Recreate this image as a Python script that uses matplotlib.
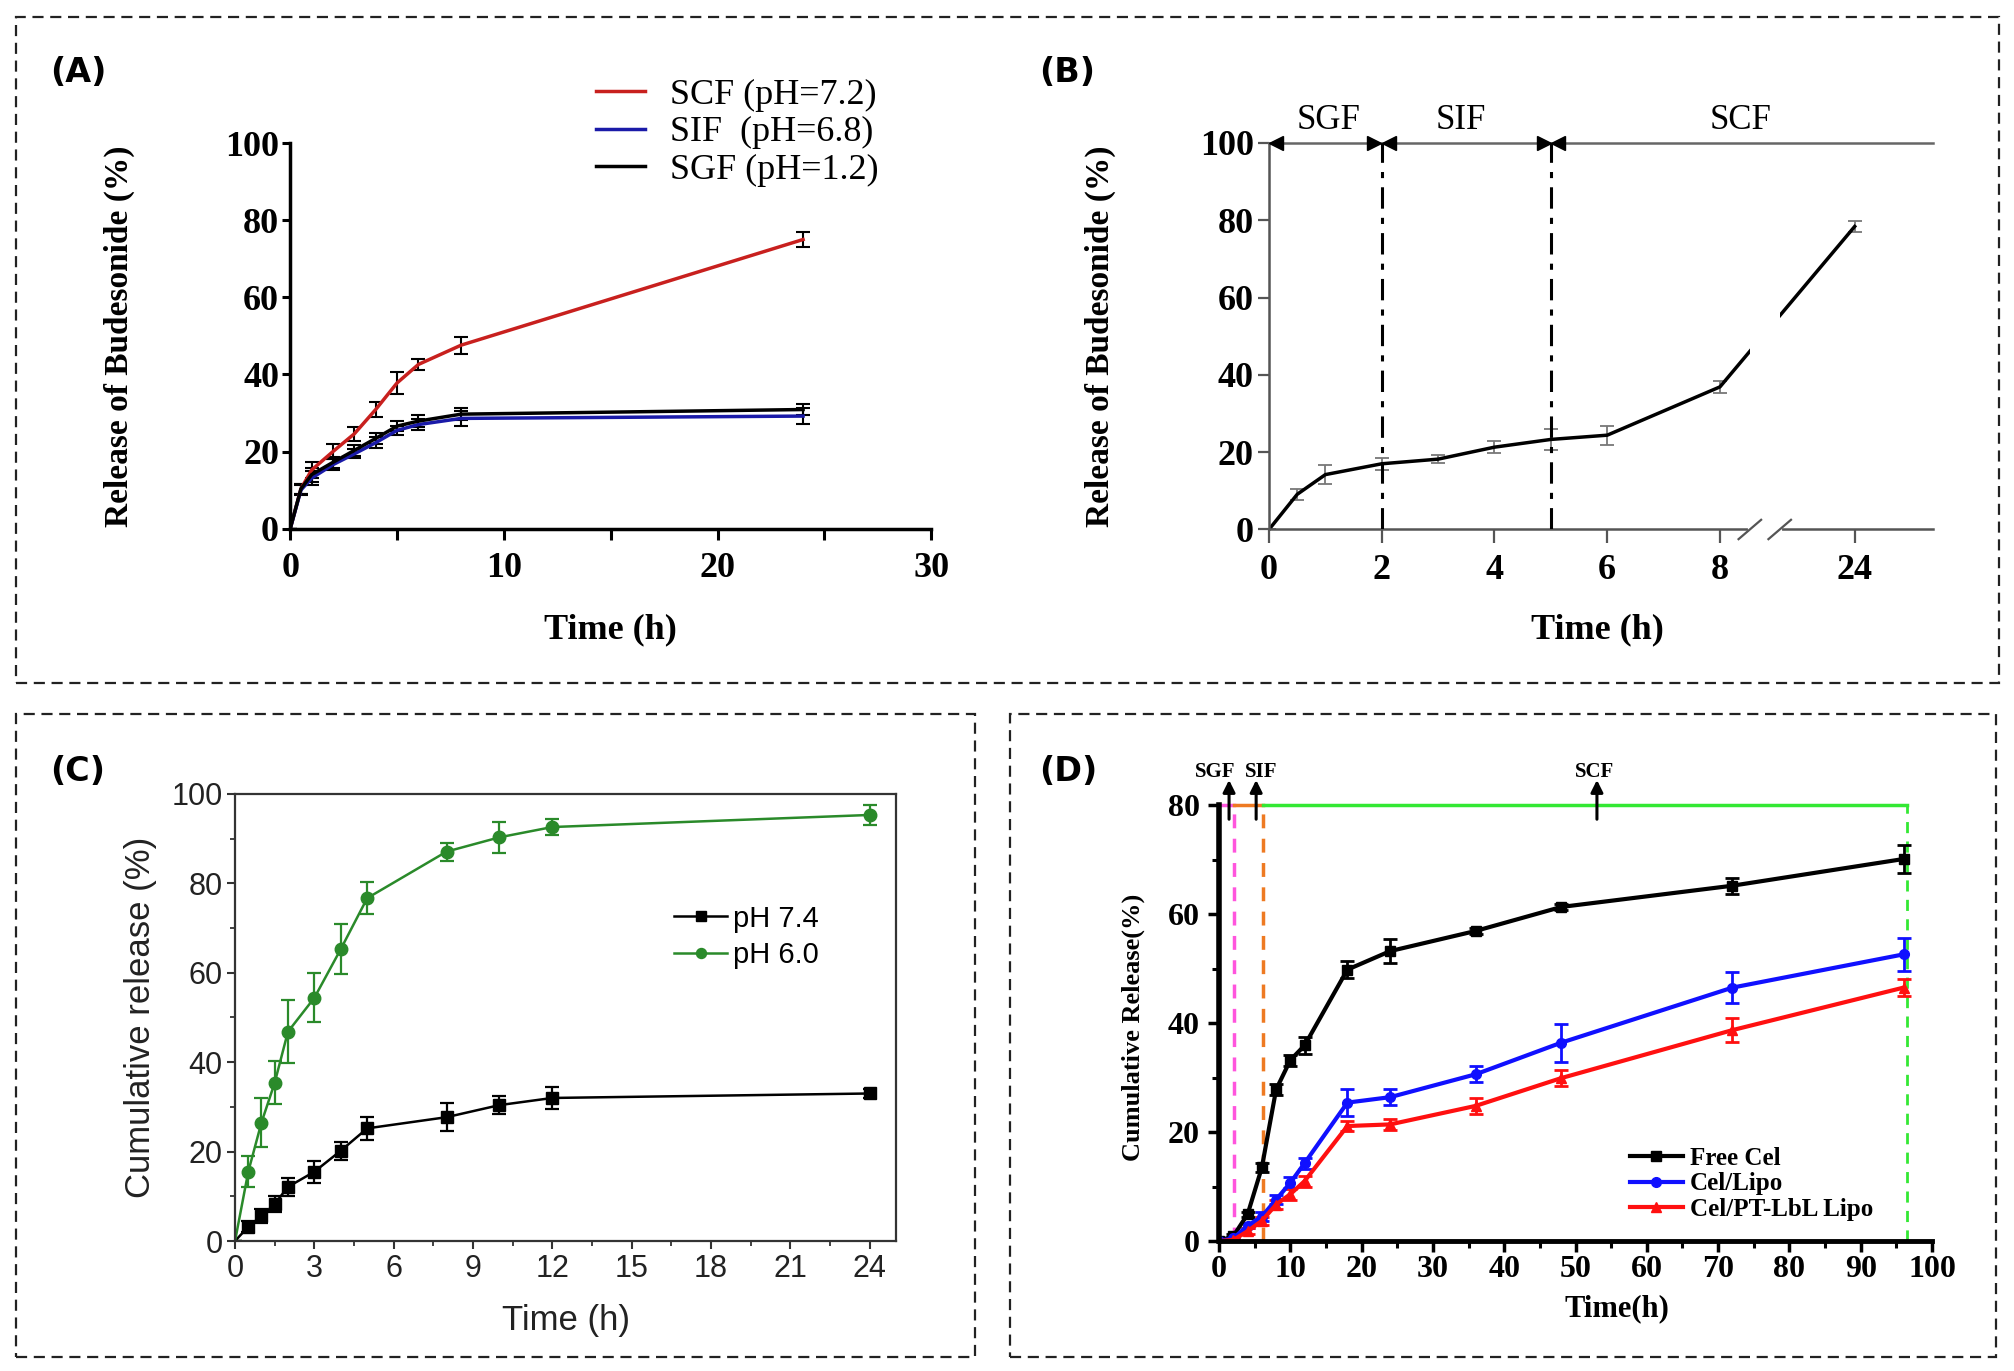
import numpy as np
import matplotlib
matplotlib.use("Agg")
import matplotlib.pyplot as plt
from matplotlib.patches import Rectangle
from matplotlib.ticker import MultipleLocator, FixedLocator

SERIF = "Liberation Serif"
SANS = "Liberation Sans"

# (A) release in each medium
a_time = [0, 0.5, 1, 2, 3, 4, 5, 6, 8, 24]
a_scf = [0, 10.3, 15.2, 20.0, 24.6, 30.9, 37.8, 42.6, 47.6, 75.0]
a_scf_err = [0, 1.2, 2.0, 2.0, 1.8, 2.0, 2.8, 1.5, 2.2, 2.0]
a_sif = [0, 10.0, 13.1, 16.6, 19.4, 22.3, 25.5, 27.0, 28.6, 29.2]
a_sif_err = [0, 1.2, 1.8, 1.5, 1.2, 1.5, 1.2, 1.5, 2.0, 2.0]
a_sgf = [0, 10.3, 14.0, 17.2, 20.3, 23.4, 26.6, 27.9, 29.7, 30.9]
a_sgf_err = [0, 1.2, 1.8, 1.5, 1.5, 1.5, 1.2, 1.5, 1.5, 1.5]
a_labels = ["SCF (pH=7.2)", "SIF  (pH=6.8)", "SGF (pH=1.2)"]

# (B) sequential SGF -> SIF -> SCF
b_time = [0, 0.5, 1, 2, 3, 4, 5, 6, 8, 24]
b_rel = [0, 9.1, 14.2, 17.0, 18.2, 21.3, 23.3, 24.4, 36.9, 78.4]
b_err = [0, 1.5, 2.5, 1.5, 1.0, 1.5, 2.8, 2.5, 1.5, 1.5]
b_xticks = [0, 2, 4, 6, 8, 24]
b_phases = ["SGF", "SIF", "SCF"]

# (C) pH dependent release
c_time = [0, 0.5, 1, 1.5, 2, 3, 4, 5, 8, 10, 12, 24]
c_ph74 = [0, 3.2, 5.6, 8.3, 12.1, 15.5, 20.2, 25.2, 27.7, 30.4, 32.0, 33.0]
c_ph74_err = [0, 1.2, 1.5, 1.8, 2.0, 2.5, 2.0, 2.5, 3.2, 2.0, 2.5, 1.0]
c_ph60 = [0, 15.5, 26.5, 35.4, 46.8, 54.4, 65.3, 76.7, 87.1, 90.3, 92.6, 95.3]
c_ph60_err = [0, 3.5, 5.5, 4.8, 7.0, 5.5, 5.5, 3.5, 2.0, 3.5, 1.8, 2.2]

# (D) celastrol formulations
d_time = [0, 2, 4, 6, 8, 10, 12, 18, 24, 36, 48, 72, 96]
d_free = [0, 0.9, 4.9, 13.5, 27.8, 33.2, 35.9, 49.8, 53.2, 56.9, 61.3, 65.2, 70.1]
d_free_err = [0, 0.3, 0.5, 0.8, 1.0, 1.0, 1.5, 1.5, 2.2, 0.6, 0.5, 1.5, 2.5]
d_lipo = [0, 0.5, 2.8, 4.5, 7.6, 10.7, 14.3, 25.4, 26.4, 30.6, 36.4, 46.5, 52.6]
d_lipo_err = [0, 0.3, 0.5, 0.8, 0.8, 1.0, 1.0, 2.5, 1.5, 1.5, 3.5, 2.8, 3.0]
d_lbl = [0, 0.2, 1.8, 3.7, 6.7, 8.6, 11.0, 21.1, 21.4, 24.8, 29.9, 38.7, 46.5]
d_lbl_err = [0, 0.3, 0.5, 0.8, 0.8, 1.0, 1.0, 1.0, 1.0, 1.5, 1.5, 2.2, 1.5]
d_labels = ["Free Cel", "Cel/Lipo", "Cel/PT-LbL Lipo"]
d_stage_time = [2.1, 6.2, 96.5]   # SGF/SIF, SIF/SCF, end


def line_handles(ax):
    # legend entries without the error-bar caps
    hs, ls = ax.get_legend_handles_labels()
    return [h[0] for h in hs], ls


fig = plt.figure(figsize=(20.14, 13.71), dpi=100)

# dashed frames
for x0, y0, w, h in [(0.0079, 0.5018, 0.9846, 0.4858),
                     (0.0079, 0.0102, 0.4762, 0.4690),
                     (0.5015, 0.0102, 0.4896, 0.4690)]:
    fig.add_artist(Rectangle((x0, y0), w, h, transform=fig.transFigure, fill=False,
                             ec="#222222", lw=1.6, ls=(0, (5, 3))))

for txt, x, y in [("(A)", 0.025, 0.947), ("(B)", 0.516, 0.947),
                  ("(C)", 0.025, 0.437), ("(D)", 0.516, 0.437)]:
    fig.text(x, y, txt, fontsize=24, fontweight="bold", family="DejaVu Sans", va="center")

# ---------------- (A)
ax = fig.add_axes([0.1441, 0.6144, 0.3183, 0.2812])
for vals, err, col, lab in [(a_scf, a_scf_err, "#c8201e", a_labels[0]),
                            (a_sif, a_sif_err, "#1a1aa8", a_labels[1]),
                            (a_sgf, a_sgf_err, "black", a_labels[2])]:
    ax.errorbar(a_time, vals, yerr=err, color=col, lw=2.5, ecolor="black",
                elinewidth=1.5, capsize=5, capthick=1.5, label=lab)
ax.set_xlim(0, 30)
ax.set_ylim(0, 100)
ax.xaxis.set_major_locator(FixedLocator([0, 10, 20, 30]))
ax.xaxis.set_minor_locator(MultipleLocator(5))
ax.yaxis.set_major_locator(MultipleLocator(20))
for s in ["top", "right"]:
    ax.spines[s].set_visible(False)
for s in ["left", "bottom"]:
    ax.spines[s].set_linewidth(2.5)
ax.tick_params(axis="x", which="both", direction="out", length=8, width=2.2, pad=9)
ax.tick_params(axis="y", direction="out", length=6, width=2.2, pad=2)
for t in ax.get_xticklabels() + ax.get_yticklabels():
    t.set_fontfamily(SERIF)
    t.set_fontweight("bold")
    t.set_fontsize(26)
ax.set_ylabel("Release of Budesonide (%)", family=SERIF, fontweight="bold", fontsize=24)
ax.set_xlabel("Time (h)", family=SERIF, fontweight="bold", fontsize=26)
ax.yaxis.set_label_coords(-0.242, 0.5)
ax.xaxis.set_label_coords(0.5, -0.219)
hs, ls = line_handles(ax)
ax.legend(hs, ls, loc="upper left", bbox_to_anchor=(0.426, 1.252), frameon=False,
          prop={"family": SERIF, "size": 26}, handlelength=1.35, labelspacing=0.12,
          handletextpad=0.7)

# ---------------- (B) broken time axis
k = (10.39 - 8) / 16.0


def fwd(x):
    x = np.asarray(x, dtype=float)
    return np.where(x <= 8, x, 8 + (x - 8) * k)


def inv(u):
    u = np.asarray(u, dtype=float)
    return np.where(u <= 8, u, 8 + (u - 8) / k)


ax = fig.add_axes([0.6301, 0.6138, 0.3297, 0.2819])
ax.set_xscale("function", functions=(fwd, inv))
ax.errorbar(b_time, b_rel, yerr=b_err, color="black", lw=2.5, ecolor="#777777",
            elinewidth=1.3, capsize=5, capthick=1.3, zorder=2)
xmax = float(inv(11.78))
ax.set_xlim(0, xmax)
ax.set_ylim(0, 100)
ax.xaxis.set_major_locator(FixedLocator(b_xticks))
ax.xaxis.set_minor_locator(FixedLocator([]))
ax.yaxis.set_major_locator(MultipleLocator(20))
for s in ["top", "right"]:
    ax.spines[s].set_visible(False)
for s in ["left", "bottom"]:
    ax.spines[s].set_linewidth(1.8)
    ax.spines[s].set_color("#555555")
ax.tick_params(axis="x", direction="out", length=10, width=1.6, color="#555555", pad=8)
ax.tick_params(axis="y", direction="out", length=8, width=1.6, color="#555555", pad=3)
for t in ax.get_xticklabels() + ax.get_yticklabels():
    t.set_fontfamily(SERIF)
    t.set_fontweight("bold")
    t.set_fontsize(26)
ax.set_ylabel("Release of Budesonide (%)", family=SERIF, fontweight="bold", fontsize=24)
ax.set_xlabel("Time (h)", family=SERIF, fontweight="bold", fontsize=26)
ax.yaxis.set_label_coords(-0.230, 0.5)
ax.xaxis.set_label_coords(0.495, -0.216)

# axis break: white band over the line, gap in spine, two slashes
g0, g1 = float(inv(8.53)), float(inv(9.06))
ax.axvspan(g0, g1, color="white", zorder=2.2, lw=0)
xt = ax.get_xaxis_transform()
ax.plot([g0, g1], [0, 0], color="white", lw=3, transform=xt, clip_on=False, zorder=3)
for uc in (8.53, 9.06):
    ax.plot(inv([uc - 0.2, uc + 0.2]), [-0.025, 0.025], color="#555555", lw=1.6,
            transform=xt, clip_on=False, zorder=4)

# phase annotation along 100 %
ax.plot([0, xmax], [100, 100], color="#666666", lw=1.8, clip_on=False, zorder=3)
for xb in (2, 5):
    ax.plot([xb, xb], [0, 100], color="black", lw=2.2, dashes=(7, 3, 2, 3), zorder=3)
du = 0.13
for tip, mk in [(0, "<"), (2, ">"), (2, "<"), (5, ">"), (5, "<")]:
    off = du if mk == "<" else -du
    ax.plot(inv(fwd(tip) + off), 100, marker=mk, color="black", ms=10,
            clip_on=False, zorder=5)
for lab, xc in zip(b_phases, [1.05, 3.4, float(inv(8.37))]):
    ax.text(xc, 101.5, lab, ha="center", va="bottom", family=SERIF, fontsize=25)

# ---------------- (C)
ax = fig.add_axes([0.1167, 0.0948, 0.3282, 0.3261])
green = "#2a8a2a"
ax.errorbar(c_time, c_ph74, yerr=c_ph74_err, color="black", lw=1.8, marker="s", ms=9,
            markevery=slice(1, None), ecolor="black", elinewidth=1.6, capsize=5,
            capthick=1.6, label="pH 7.4")
ax.errorbar(c_time, c_ph60, yerr=c_ph60_err, color=green, lw=1.8, marker="o", ms=9,
            markevery=slice(1, None), ecolor=green, elinewidth=1.6, capsize=5,
            capthick=1.6, label="pH 6.0")
ax.set_xlim(0, 25)
ax.set_ylim(0, 100)
ax.xaxis.set_major_locator(MultipleLocator(3))
ax.xaxis.set_minor_locator(MultipleLocator(1.5))
ax.yaxis.set_major_locator(MultipleLocator(20))
ax.yaxis.set_minor_locator(MultipleLocator(10))
for s in ax.spines.values():
    s.set_linewidth(1.6)
    s.set_color("#333333")
ax.tick_params(which="major", direction="out", length=6, width=1.5, color="#333333", pad=3)
ax.tick_params(which="minor", direction="out", length=3.5, width=1.3, color="#333333")
for t in ax.get_xticklabels() + ax.get_yticklabels():
    t.set_fontfamily(SANS)
    t.set_fontsize(22)
    t.set_color("#222222")
ax.set_ylabel("Cumulative release (%)", family=SANS, fontsize=25, color="#222222")
ax.set_xlabel("Time (h)", family=SANS, fontsize=25, color="#222222")
ax.yaxis.set_label_coords(-0.118, 0.5)
ax.xaxis.set_label_coords(0.5, -0.141)
hs, ls = line_handles(ax)
ax.legend(hs, ls, loc="center left", bbox_to_anchor=(0.625, 0.68), frameon=False,
          prop={"family": SANS, "size": 21}, handlelength=1.8, handletextpad=0.2,
          labelspacing=0.3, markerscale=0.8)

# ---------------- (D)
ax = fig.add_axes([0.6053, 0.0948, 0.3540, 0.3180])
pink, orange, lime = "#ff55dd", "#ee7a22", "#33e833"
s1, s2, s3 = d_stage_time
ax.plot([s1, s1], [0, 80], color=pink, lw=2.5, ls=(0, (4, 3)), zorder=1)
ax.plot([s2, s2], [0, 80], color=orange, lw=2.5, ls=(0, (4, 3)), zorder=1)
ax.plot([s3, s3], [0, 80], color=lime, lw=2.0, ls=(0, (4, 3)), zorder=1)
ax.plot([0, s1], [80, 80], color=pink, lw=2.5, clip_on=False, zorder=1)
ax.plot([s1, s2], [80, 80], color=orange, lw=2.5, clip_on=False, zorder=1)
ax.plot([s2, s3], [80, 80], color=lime, lw=2.5, clip_on=False, zorder=1)
for vals, err, col, mk, lab in [(d_free, d_free_err, "black", "s", d_labels[0]),
                                (d_lipo, d_lipo_err, "#1010ff", "o", d_labels[1]),
                                (d_lbl, d_lbl_err, "#ff1010", "^", d_labels[2])]:
    ax.errorbar(d_time, vals, yerr=err, color=col, lw=3, marker=mk, ms=7,
                ecolor=col, elinewidth=2, capsize=5, capthick=2, label=lab)
ax.set_xlim(0, 100)
ax.set_ylim(0, 80)
ax.xaxis.set_major_locator(MultipleLocator(10))
ax.xaxis.set_minor_locator(MultipleLocator(5))
ax.yaxis.set_major_locator(MultipleLocator(20))
ax.yaxis.set_minor_locator(MultipleLocator(10))
for s in ["top", "right"]:
    ax.spines[s].set_visible(False)
ax.spines["left"].set_linewidth(4)
ax.spines["bottom"].set_linewidth(3.5)
ax.tick_params(which="major", direction="out", length=8, width=2.5, pad=2)
ax.tick_params(which="minor", direction="out", length=5, width=2.2)
ax.tick_params(axis="y", which="major", pad=6)
for t in ax.get_xticklabels() + ax.get_yticklabels():
    t.set_fontfamily(SERIF)
    t.set_fontweight("bold")
    t.set_fontsize(23)
ax.set_ylabel("Cumulative Release(%)", family=SERIF, fontweight="bold", fontsize=19)
ax.set_xlabel("Time(h)", family=SERIF, fontweight="bold", fontsize=22)
ax.yaxis.set_label_coords(-0.104, 0.49)
ax.xaxis.set_label_coords(0.558, -0.121)
for lab, xa, xt_ in [("SGF", 1.4, -0.6), ("SIF", 5.2, 5.9), ("SCF", 53.0, 52.7)]:
    ax.annotate("", xy=(xa, 84.6), xytext=(xa, 77.4),
                arrowprops=dict(arrowstyle="-|>", color="black", lw=2.2,
                                mutation_scale=18, shrinkA=0, shrinkB=0),
                annotation_clip=False)
    ax.text(xt_, 86.0, lab, ha="center", va="center", family=SERIF,
            fontweight="bold", fontsize=15)
hs, ls = line_handles(ax)
ax.legend(hs, ls, loc="center left", bbox_to_anchor=(0.545, 0.131), frameon=False,
          prop={"family": SERIF, "weight": "bold", "size": 18}, handlelength=2.1,
          handletextpad=0.3, labelspacing=0.1)

fig.savefig("out.png", dpi=100)
